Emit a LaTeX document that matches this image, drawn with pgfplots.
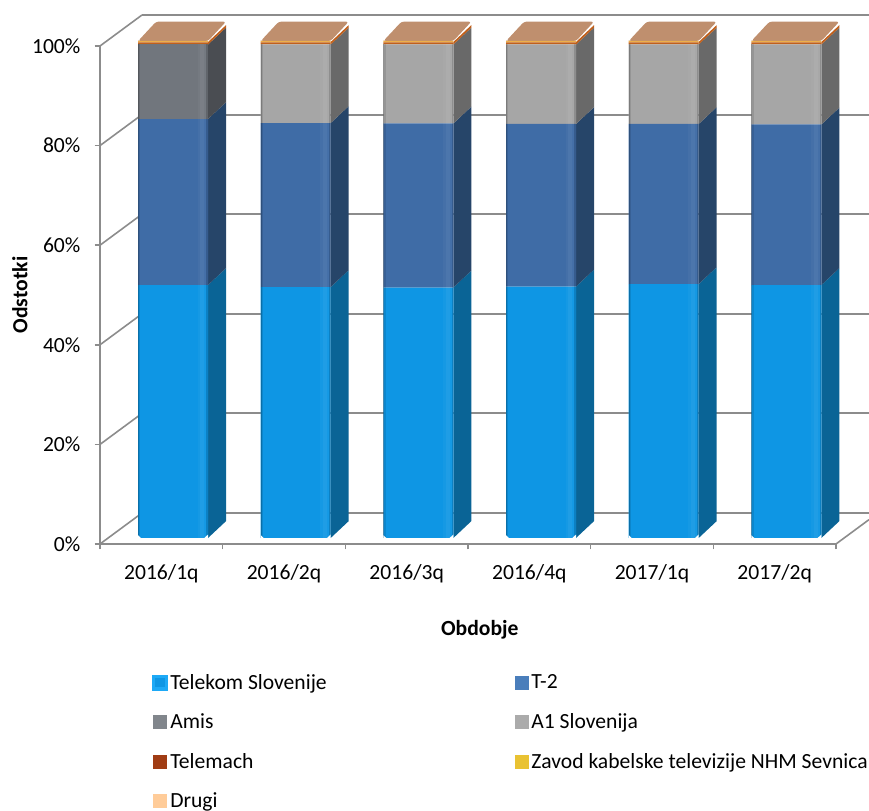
\documentclass[border=0pt]{standalone}
\usepackage{fontspec}
\setmainfont{Carlito}
\usepackage{pgfplots}
\pgfplotsset{compat=1.18}
% 1 px of the reference = 0.75pt
\definecolor{frameC}{HTML}{8C8C8C}
\definecolor{telF}{HTML}{0E96E4}\definecolor{telS}{HTML}{0A6496}
\definecolor{t2F}{HTML}{3F6CA6}\definecolor{t2S}{HTML}{264569}\definecolor{t2L}{HTML}{4A7EBB}
\definecolor{amF}{HTML}{71767D}\definecolor{amS}{HTML}{4A4D52}
\definecolor{a1F}{HTML}{A6A6A6}\definecolor{a1S}{HTML}{696969}
\definecolor{tmF}{HTML}{C0601C}\definecolor{zvF}{HTML}{EDB04A}
\definecolor{drF}{HTML}{BF8F6E}
\definecolor{tmL}{HTML}{A03C14}\definecolor{zvL}{HTML}{E9C232}\definecolor{drL}{HTML}{FFCC99}
\definecolor{telB}{HTML}{1DA9F6}\definecolor{amL}{HTML}{81868C}\definecolor{a1L}{HTML}{ABABAB}
\newcommand\sideface[4]{%
  \pgfmathsetmacro\xa{#1+0.285}\pgfmathsetmacro\xb{#1+0.432}%
  \pgfmathsetmacro\yc{#3+3.4}\pgfmathsetmacro\yd{#2+3.4}%
  \edef\temp{\noexpand\addplot[fill=#4,draw=none,forget plot] coordinates {(\xa,#2) (\xb,\yd) (\xb,\yc) (\xa,#3)} -- cycle;}\temp}
\newcommand\topface[2]{%
  \pgfmathsetmacro\xa{#1-0.285}\pgfmathsetmacro\xb{#1+0.285}%
  \pgfmathsetmacro\xc{#1+0.432}\pgfmathsetmacro\xd{#1-0.138}\pgfmathsetmacro\yc{#2+3.9}%
  \edef\temp{\noexpand\addplot[fill=drF,draw=none,forget plot,rounded corners=2pt] coordinates {(\xa,#2) (\xb,#2) (\xc,\yc) (\xd,\yc)} -- cycle;}\temp}
% one vertical strip on a front face: bar, left and right offset from its centre, top, colour, opacity
\newcommand\strip[6]{%
  \pgfmathsetmacro\xa{#1+#2}\pgfmathsetmacro\xb{#1+#3}%
  \edef\temp{\noexpand\addplot[fill=#5,fill opacity=#6,draw=none,forget plot] coordinates {(\xa,0) (\xb,0) (\xb,#4) (\xa,#4)} -- cycle;}\temp}
\newcommand\corner[4]{%
  \pgfmathsetmacro\xa{#1+#2}\pgfmathsetmacro\xb{#1+#3}%
  \edef\temp{\noexpand\addplot[fill=white,draw=none,forget plot] coordinates {(\xa,0) (\xb,0) (\xa,#4)} -- cycle;}\temp}
\newcommand\shadebar[2]{%
  \strip{#1}{-0.285}{-0.277}{#2}{black}{0.26}%
  \strip{#1}{-0.277}{-0.268}{#2}{black}{0.10}%
  \strip{#1}{0.200}{0.222}{#2}{white}{0.03}%
  \strip{#1}{0.222}{0.255}{#2}{white}{0.07}%
  \strip{#1}{0.255}{0.272}{#2}{white}{0.03}%
  \strip{#1}{0.272}{0.285}{#2}{black}{0.14}%
  \corner{#1}{-0.285}{-0.262}{0.55}%
  \corner{#1}{0.285}{0.255}{0.7}}
\newcommand\swatch[1]{\fill[#1] (0pt,-5.25pt) rectangle (10.5pt,5.25pt);}
\begin{document}
\begin{tikzpicture}[font=\fontsize{16.2}{19}\selectfont]
\useasboundingbox (0,0) rectangle (651.75pt,608.25pt);
% frame: walls, grid, ticks, labels
\begin{axis}[
  at={(75pt,200.25pt)},anchor=south west,scale only axis,
  width=552pt,height=373.5pt,
  xmin=-0.5,xmax=5.5,ymin=0,ymax=100,clip=false,
  axis x line*=bottom,axis y line*=left,
  axis line style={frameC,line width=1.5pt},
  x axis line style={-},y axis line style={-},
  tick style={frameC,line width=1.2pt},
  major tick length=4pt,
  tick align=outside,
  xtick={-0.5,0.5,1.5,2.5,3.5,4.5,5.5},
  xticklabels={},
  extra x ticks={0,1,2,3,4,5},
  extra x tick labels={2016/1q,2016/2q,2016/3q,2016/4q,2017/1q,2017/2q},
  extra x tick style={major tick length=0pt,tick label style={yshift=-11.5pt}},
  ytick={0,20,40,60,80,100},
  yticklabels={0\%,20\%,40\%,60\%,80\%,100\%},
  y tick label style={xshift=-7.2pt},
  xlabel={\textbf{Obdobje}},
  ylabel={\textbf{Odstotki}},
  xlabel style={at={(axis description cs:0.516,-0.172)},anchor=center},
  ylabel style={at={(axis description cs:-0.1087,0.5)},anchor=center},
]
\addplot[frameC,line width=1.5pt] coordinates {(-0.1576,6.225) (5.769,6.225)};
\addplot[frameC,line width=1.5pt] coordinates {(-0.1576,26.225) (5.769,26.225)};
\addplot[frameC,line width=1.5pt] coordinates {(-0.1576,46.225) (5.769,46.225)};
\addplot[frameC,line width=1.5pt] coordinates {(-0.1576,66.225) (5.769,66.225)};
\addplot[frameC,line width=1.5pt] coordinates {(-0.1576,86.225) (5.769,86.225)};
\addplot[frameC,line width=1.5pt] coordinates {(-0.1576,106.225) (5.769,106.225)};
\addplot[frameC,line width=1.2pt] coordinates {(-0.5,0) (-0.1576,6.225)};
\addplot[frameC,line width=1.2pt] coordinates {(-0.5,20) (-0.1576,26.225)};
\addplot[frameC,line width=1.2pt] coordinates {(-0.5,40) (-0.1576,46.225)};
\addplot[frameC,line width=1.2pt] coordinates {(-0.5,60) (-0.1576,66.225)};
\addplot[frameC,line width=1.2pt] coordinates {(-0.5,80) (-0.1576,86.225)};
\addplot[frameC,line width=1.2pt] coordinates {(-0.5,100) (-0.1576,106.225)};
\addplot[frameC,line width=1.2pt] coordinates {(5.5,0) (5.769,4.89)};
\end{axis}
% side and top faces
\begin{axis}[
  at={(83.8pt,204.75pt)},anchor=south west,scale only axis,
  width=552pt,height=372.75pt,
  xmin=-0.5,xmax=5.5,ymin=0,ymax=100,clip=false,hide axis,
]
\sideface{0}{0}{50.9}{telS}\sideface{0}{50.9}{84.3}{t2S}\sideface{0}{84.3}{99.3}{amS}\sideface{0}{99.3}{99.8}{tmF}
\sideface{1}{0}{50.5}{telS}\sideface{1}{50.5}{83.5}{t2S}\sideface{1}{83.5}{99.3}{a1S}\sideface{1}{99.3}{99.8}{tmF}
\sideface{2}{0}{50.4}{telS}\sideface{2}{50.4}{83.4}{t2S}\sideface{2}{83.4}{99.3}{a1S}\sideface{2}{99.3}{99.8}{tmF}
\sideface{3}{0}{50.6}{telS}\sideface{3}{50.6}{83.3}{t2S}\sideface{3}{83.3}{99.3}{a1S}\sideface{3}{99.3}{99.8}{tmF}
\sideface{4}{0}{51.1}{telS}\sideface{4}{51.1}{83.3}{t2S}\sideface{4}{83.3}{99.3}{a1S}\sideface{4}{99.3}{99.8}{tmF}
\sideface{5}{0}{50.9}{telS}\sideface{5}{50.9}{83.2}{t2S}\sideface{5}{83.2}{99.3}{a1S}\sideface{5}{99.3}{99.8}{tmF}
\topface{0}{100}\topface{1}{100}\topface{2}{100}\topface{3}{100}\topface{4}{100}\topface{5}{100}
\end{axis}
% front faces, stacked, with the legend
\begin{axis}[
  at={(83.8pt,204.75pt)},anchor=south west,scale only axis,
  width=552pt,height=372.75pt,
  xmin=-0.5,xmax=5.5,ymin=0,ymax=100,clip=false,hide axis,
  ybar stacked,bar width=52.5pt,
  legend columns=2,
  legend cell align=left,
  legend style={at={(0.0548,-0.2696)},anchor=north west,draw=none,fill=none,inner sep=0pt,
    row sep=13.8pt,nodes={inner sep=1.5pt},
    /tikz/every even column/.append style={column sep=140pt}},
]
\addplot[draw=none,fill=telF,legend image code/.code={\fill[telB] (-0.75pt,-6pt) rectangle (11.25pt,6pt);\fill[telF] (1.5pt,-3.5pt) rectangle (9pt,3.5pt);}] coordinates {(0,50.9) (1,50.5) (2,50.4) (3,50.6) (4,51.1) (5,50.9)};
\addplot[draw=none,fill=t2F,legend image code/.code={\swatch{t2L}}] coordinates {(0,33.4) (1,33.0) (2,33.0) (3,32.7) (4,32.2) (5,32.3)};
\addplot[draw=none,fill=amF,legend image code/.code={\swatch{amL}}] coordinates {(0,15.0) (1,0) (2,0) (3,0) (4,0) (5,0)};
\addplot[draw=none,fill=a1F,legend image code/.code={\swatch{a1L}}] coordinates {(0,0) (1,15.8) (2,15.9) (3,16.0) (4,16.0) (5,16.1)};
\addplot[draw=none,fill=tmF,legend image code/.code={\swatch{tmL}}] coordinates {(0,0.4) (1,0.4) (2,0.4) (3,0.4) (4,0.4) (5,0.4)};
\addplot[draw=none,fill=zvF,legend image code/.code={\swatch{zvL}}] coordinates {(0,0.3) (1,0.3) (2,0.3) (3,0.3) (4,0.3) (5,0.3)};
\addplot[draw=none,fill=drF,legend image code/.code={\swatch{drL}}] coordinates {(0,0.05) (1,0.05) (2,0.05) (3,0.05) (4,0.05) (5,0.05)};
\legend{Telekom Slovenije,T-2,Amis,A1 Slovenija,Telemach,Zavod kabelske televizije NHM Sevnica,Drugi}
\end{axis}
% light and shade on the front faces
\begin{axis}[
  at={(83.8pt,204.75pt)},anchor=south west,scale only axis,
  width=552pt,height=372.75pt,
  xmin=-0.5,xmax=5.5,ymin=0,ymax=100,clip=false,hide axis,
]
\shadebar{0}{99.3}\shadebar{1}{99.3}\shadebar{2}{99.3}\shadebar{3}{99.3}\shadebar{4}{99.3}\shadebar{5}{99.3}
\end{axis}
\end{tikzpicture}
\end{document}
